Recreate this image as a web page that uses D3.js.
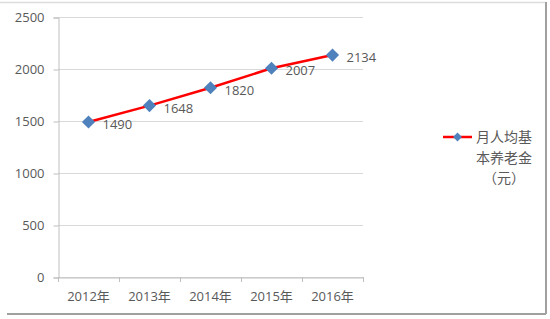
<!DOCTYPE html>
<html>
<head>
<meta charset="utf-8">
<script src="https://cdn.jsdelivr.net/npm/d3@7"></script>
<style>
  body { margin: 0; background: #fff; }
  text { font-family: "Open Sans", "Noto Sans CJK SC", sans-serif; fill: #595959; }
</style>
</head>
<body>
<div id="chart"></div>
<script>
var years = ['2012年', '2013年', '2014年', '2015年', '2016年']
var pension = [1490, 1648, 1820, 2007, 2134]
var yTicks = [0, 500, 1000, 1500, 2000, 2500]
var legendLines = ['月人均基', '本养老金', '（元）']

var w = 550, h = 319
var plotLeft = 58, plotRight = 363, plotTop = 17, plotBottom = 277

var svg = d3.select('#chart').append('svg')
  .attr('width', w)
  .attr('height', h)

// outer frame (top, right, bottom only)
svg.append('line')
  .attr('x1', 0).attr('x2', 546).attr('y1', 2.5).attr('y2', 2.5)
  .attr('stroke', '#dcdcdc').attr('stroke-width', 1.5)
svg.append('line')
  .attr('x1', 546).attr('x2', 546).attr('y1', 2).attr('y2', 314)
  .attr('stroke', '#a0a0a0').attr('stroke-width', 2)
svg.append('line')
  .attr('x1', 7).attr('x2', 546).attr('y1', 314).attr('y2', 314)
  .attr('stroke', '#a0a0a0').attr('stroke-width', 2)

var x = d3.scaleBand().domain(years).range([plotLeft, plotRight])
var y = d3.scaleLinear().domain([0, 2500]).range([plotBottom, plotTop])

// gridlines
svg.selectAll('.grid')
  .data(yTicks)
  .enter().append('line')
    .attr('x1', plotLeft).attr('x2', plotRight)
    .attr('y1', function(d){ return Math.round(y(d)) + 0.5 })
    .attr('y2', function(d){ return Math.round(y(d)) + 0.5 })
    .attr('stroke', '#d9d9d9')

// y axis
var yAxis = svg.append('g')
  .attr('transform', 'translate(' + (plotLeft + 0.5) + ',0.5)')
  .call(d3.axisLeft(y).tickValues(yTicks).tickFormat(d3.format('d')).tickSize(5).tickPadding(9))
yAxis.select('.domain').attr('stroke', '#bfbfbf')
yAxis.selectAll('.tick line').attr('stroke', '#bfbfbf')
yAxis.selectAll('text').style('font-size', '13px').attr('fill', '#595959')

// x axis
var xAxis = svg.append('g')
  .attr('transform', 'translate(0,' + (plotBottom + 0.5) + ')')
  .call(d3.axisBottom(x).tickSize(0).tickPadding(14))
xAxis.select('.domain').attr('stroke', '#bfbfbf')
xAxis.selectAll('text').style('font-size', '13px').attr('fill', '#595959')
svg.selectAll('.xtick')
  .data(years.concat(['end']))
  .enter().append('line')
    .attr('x1', function(d, i){ return plotLeft + i * x.step() + 0.5 })
    .attr('x2', function(d, i){ return plotLeft + i * x.step() + 0.5 })
    .attr('y1', plotBottom).attr('y2', plotBottom + 5)
    .attr('stroke', '#bfbfbf')

// line
var line = d3.line()
  .x(function(d, i){ return x(years[i]) + x.bandwidth() / 2 })
  .y(function(d){ return y(d) })
svg.append('path')
  .datum(pension)
  .attr('d', line)
  .attr('fill', 'none')
  .attr('stroke', '#ff0000')
  .attr('stroke-width', 2.5)

var diamond = d3.symbol().type(d3.symbolDiamond2).size(110)
svg.selectAll('.pt')
  .data(pension)
  .enter().append('path')
    .attr('d', diamond)
    .attr('transform', function(d, i){ return 'translate(' + (x(years[i]) + x.bandwidth() / 2) + ',' + y(d) + ')' })
    .attr('fill', '#4f81bd')

svg.selectAll('.lbl')
  .data(pension)
  .enter().append('text')
    .attr('x', function(d, i){ return x(years[i]) + x.bandwidth() / 2 + 14 })
    .attr('y', function(d){ return y(d) + 7 })
    .style('font-size', '13px')
    .attr('fill', '#404040')
    .text(function(d){ return d })

// legend
var lg = svg.append('g').attr('transform', 'translate(443,137)')
lg.append('line').attr('x1', 0).attr('x2', 29).attr('y1', 0).attr('y2', 0)
  .attr('stroke', '#ff0000').attr('stroke-width', 2.5)
lg.append('path').attr('d', d3.symbol().type(d3.symbolDiamond2).size(50))
  .attr('transform', 'translate(14.5,0)').attr('fill', '#4f81bd')
lg.selectAll('.lt')
  .data(legendLines)
  .enter().append('text')
    .attr('x', 61)
    .attr('y', function(d, i){ return 5 + i * 20.5 })
    .attr('text-anchor', 'middle')
    .style('font-family', '"Noto Sans CJK SC", sans-serif')
    .style('font-size', '14px')
    .attr('fill', '#595959')
    .text(function(d){ return d })
</script>
</body>
</html>
